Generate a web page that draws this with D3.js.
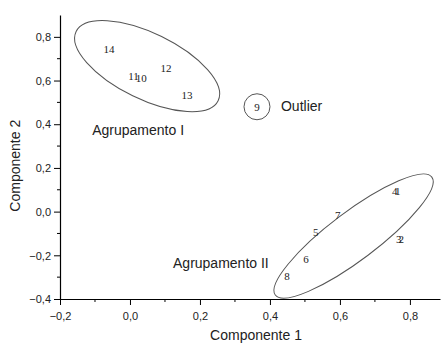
<!DOCTYPE html>
<html>
<head>
<meta charset="utf-8">
<script src="https://cdn.jsdelivr.net/npm/d3@7"></script>
<style>
  body { margin: 0; background: #fff; }
</style>
</head>
<body>
<div id="chart"></div>
<script>
// sample scores on the first two components
const ids   = ["14", "11", "10", "12", "13", "9", "4", "1", "3", "2", "7", "5", "6", "8"];
const comp1 = [-0.06, 0.010, 0.032, 0.103, 0.163, 0.363, 0.757, 0.765, 0.768, 0.775, 0.594, 0.531, 0.503, 0.449];
const comp2 = [0.745, 0.620, 0.610, 0.655, 0.535, 0.480, 0.092, 0.092, -0.127, -0.127, -0.018, -0.096, -0.217, -0.297];

const xTicks = [-0.2, 0.0, 0.2, 0.4, 0.6, 0.8];
const yTicks = [-0.4, -0.2, 0.0, 0.2, 0.4, 0.6, 0.8];

// group outlines: centre (data units), semi-axes (px), rotation (deg)
const groupNames = ["Agrupamento I", "Agrupamento II"];
const groupCx    = [0.049, 0.639];
const groupCy    = [0.666, -0.112];
const groupRx    = [79, 98];
const groupRy    = [33, 24];
const groupRot   = [26, -37];
const groupLabelX = [-0.108, 0.123];
const groupLabelY = [0.352, -0.258];

const W = 442, H = 343;
const margin = { l: 60, r: 2, t: 15, b: 44 };
const SANS = "Liberation Sans, Arial, sans-serif";
const SERIF = "Liberation Serif, Times New Roman, serif";

const x = d3.scaleLinear().domain([-0.2, 0.886]).range([margin.l, W - margin.r]);
const y = d3.scaleLinear().domain([-0.4, 0.9]).range([H - margin.b, margin.t]);

const fmt = d3.format(".1f");
const comma = (v) => fmt(v).replace(".", ",").replace("-0,0", "0,0");

const svg = d3.select("#chart").append("svg")
  .attr("width", W)
  .attr("height", H)
  .attr("font-family", SANS);

// minor ticks at the midpoints
const xMinor = d3.range(-0.1, 0.86, 0.2);
const yMinor = d3.range(-0.3, 0.9, 0.2);

const gx = svg.append("g")
  .attr("transform", `translate(0,${y(-0.4)})`)
  .call(d3.axisBottom(x).tickValues(xTicks).tickFormat(comma).tickSize(6).tickSizeOuter(0));
gx.append("g").selectAll("line").data(xMinor).join("line")
  .attr("x1", d => x(d)).attr("x2", d => x(d))
  .attr("y1", 0).attr("y2", 3)
  .attr("stroke", "#000");

const gy = svg.append("g")
  .attr("transform", `translate(${x(-0.2)},0)`)
  .call(d3.axisLeft(y).tickValues(yTicks).tickFormat(comma).tickSize(6).tickSizeOuter(0));
gy.append("g").selectAll("line").data(yMinor).join("line")
  .attr("y1", d => y(d)).attr("y2", d => y(d))
  .attr("x1", 0).attr("x2", -3)
  .attr("stroke", "#000");

svg.selectAll(".domain").attr("stroke", "#000").attr("stroke-width", 1.2);
svg.selectAll(".tick line").attr("stroke", "#000");
svg.selectAll(".tick text")
  .attr("font-family", SANS)
  .attr("font-size", 11)
  .attr("fill", "#222");
gx.selectAll(".tick text").attr("dy", "1.05em");
gy.selectAll(".tick text").attr("dy", "0.34em");

svg.append("text")
  .attr("x", (x(-0.2) + W) / 2 + 5)
  .attr("y", 340)
  .attr("text-anchor", "middle")
  .attr("font-size", 14)
  .attr("fill", "#222")
  .text("Componente 1");

svg.append("text")
  .attr("transform", `translate(20,${y(0.21)}) rotate(-90)`)
  .attr("text-anchor", "middle")
  .attr("font-size", 14)
  .attr("fill", "#222")
  .text("Componente 2");

// group ellipses
svg.append("g").selectAll("ellipse").data(groupNames).join("ellipse")
  .attr("transform", (d, i) => `translate(${x(groupCx[i])},${y(groupCy[i])}) rotate(${groupRot[i]})`)
  .attr("rx", (d, i) => groupRx[i])
  .attr("ry", (d, i) => groupRy[i])
  .attr("fill", "none")
  .attr("stroke", "#555")
  .attr("stroke-width", 1);

svg.append("g").selectAll("text").data(groupNames).join("text")
  .attr("x", (d, i) => x(groupLabelX[i]))
  .attr("y", (d, i) => y(groupLabelY[i]))
  .attr("font-size", 14)
  .attr("fill", "#222")
  .text(d => d);

// outlier ring around sample 9
const iOut = ids.indexOf("9");
svg.append("circle")
  .attr("cx", x(comp1[iOut]))
  .attr("cy", y(comp2[iOut]))
  .attr("r", 13)
  .attr("fill", "none")
  .attr("stroke", "#555");
svg.append("text")
  .attr("x", x(comp1[iOut]) + 24)
  .attr("y", y(comp2[iOut]) + 4)
  .attr("font-size", 14)
  .attr("fill", "#222")
  .text("Outlier");

// sample labels
svg.append("g").selectAll("text").data(ids).join("text")
  .attr("x", (d, i) => x(comp1[i]))
  .attr("y", (d, i) => y(comp2[i]))
  .attr("dy", "0.35em")
  .attr("text-anchor", "middle")
  .attr("font-family", SERIF)
  .attr("font-size", 11)
  .attr("fill", "#222")
  .text(d => d);
</script>
</body>
</html>
